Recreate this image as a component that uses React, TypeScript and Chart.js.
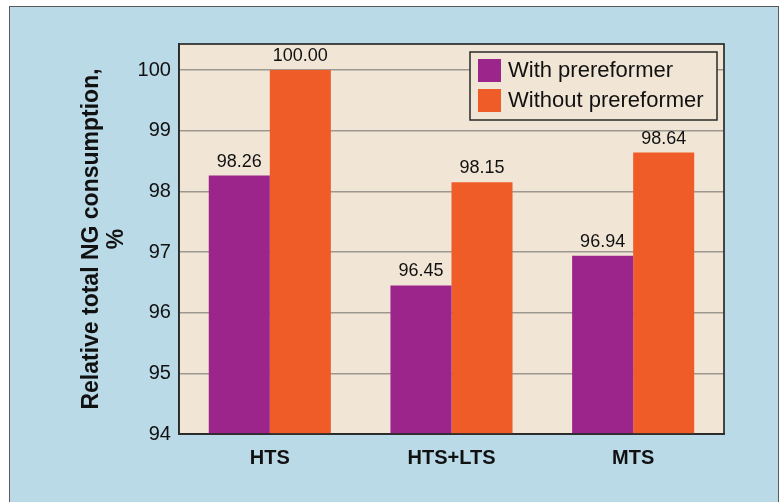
import React, { useEffect, useRef } from "react";
import { Chart, registerables } from "chart.js";

Chart.register(...registerables);

const categories = ["HTS", "HTS+LTS", "MTS"];
const withPrereformer = [98.26, 96.45, 96.94];
const withoutPrereformer = [100.0, 98.15, 98.64];
const seriesLabels = ["With prereformer", "Without prereformer"];
const yTicks = [94, 95, 96, 97, 98, 99, 100];
const yAxisTitle = ["Relative total NG consumption,", "%"];

const FONT = '"Liberation Sans", Arial, Helvetica, sans-serif';
const PURPLE = "#9b258b";
const ORANGE = "#f05c28";
const BEIGE = "#f1e6d5";
const BLUE = "#badae8";
const INK = "#111111";

const backdrop = {
  id: "backdrop",
  beforeDraw(chart: any) {
    const { ctx, width, height, chartArea } = chart;
    ctx.save();
    ctx.fillStyle = "#ffffff";
    ctx.fillRect(0, 0, width, height);
    ctx.fillStyle = BLUE;
    ctx.fillRect(9, 6, width - 10, height);
    ctx.strokeStyle = "#5a5a5a";
    ctx.lineWidth = 1;
    ctx.strokeRect(9.5, 6.5, width - 11, height + 10);
    ctx.fillStyle = BEIGE;
    ctx.fillRect(chartArea.left, chartArea.top, chartArea.right - chartArea.left, chartArea.bottom - chartArea.top);
    ctx.restore();
  },
};

const overlay = {
  id: "overlay",
  afterDatasetsDraw(chart: any) {
    const { ctx, chartArea } = chart;
    ctx.save();

    // value labels above each bar
    ctx.font = `18px ${FONT}`;
    ctx.fillStyle = INK;
    ctx.textAlign = "center";
    ctx.textBaseline = "bottom";
    chart.data.datasets.forEach((ds: any, i: number) => {
      const meta = chart.getDatasetMeta(i);
      meta.data.forEach((bar: any, j: number) => {
        ctx.fillText(Number(ds.data[j]).toFixed(2), bar.x, bar.y - 5);
      });
    });

    // plot frame
    ctx.strokeStyle = "#2a2a2a";
    ctx.lineWidth = 1.7;
    ctx.strokeRect(chartArea.left, chartArea.top, chartArea.right - chartArea.left, chartArea.bottom - chartArea.top);

    // legend box
    const lx = 470;
    const ly = 52;
    const lw = 247;
    const lh = 68;
    ctx.fillStyle = BEIGE;
    ctx.fillRect(lx, ly, lw, lh);
    ctx.strokeStyle = "#2a2a2a";
    ctx.lineWidth = 1.5;
    ctx.strokeRect(lx, ly, lw, lh);
    ctx.font = `22px ${FONT}`;
    ctx.textAlign = "left";
    ctx.textBaseline = "middle";
    chart.data.datasets.forEach((ds: any, i: number) => {
      const sy = ly + 7 + i * 30;
      ctx.fillStyle = ds.backgroundColor;
      ctx.fillRect(lx + 8, sy, 23, 23);
      ctx.fillStyle = INK;
      ctx.fillText(ds.label, lx + 38, sy + 12);
    });

    ctx.restore();
  },
};

export default function App() {
  const canvasRef = useRef<HTMLCanvasElement | null>(null);

  useEffect(() => {
    const canvas = canvasRef.current;
    if (!canvas) return;
    const chart = new Chart(canvas, {
      type: "bar",
      data: {
        labels: categories,
        datasets: [
          {
            label: seriesLabels[0],
            data: withPrereformer,
            backgroundColor: PURPLE,
            borderWidth: 0,
            categoryPercentage: 0.672,
            barPercentage: 1,
          },
          {
            label: seriesLabels[1],
            data: withoutPrereformer,
            backgroundColor: ORANGE,
            borderWidth: 0,
            categoryPercentage: 0.672,
            barPercentage: 1,
          },
        ],
      },
      options: {
        responsive: false,
        animation: false,
        devicePixelRatio: 1,
        layout: { padding: { left: 75, right: 56, top: 44, bottom: 20 } },
        plugins: {
          legend: { display: false },
          tooltip: { enabled: false },
        },
        scales: {
          x: {
            grid: { display: false, drawTicks: false },
            border: { display: true, color: "#2a2a2a", width: 1.7 },
            ticks: {
              color: INK,
              padding: 12,
              font: { family: FONT, size: 20, weight: "bold" },
            },
          },
          y: {
            min: 94,
            max: 100.43,
            afterBuildTicks: (scale: any) => {
              scale.ticks = yTicks.map((v) => ({ value: v }));
            },
            grid: { color: "#9c9890", lineWidth: 1.5, drawTicks: false },
            border: { display: true, color: "#2a2a2a", width: 1.7 },
            ticks: {
              color: INK,
              padding: 8,
              font: { family: FONT, size: 20 },
            },
            title: {
              display: true,
              text: yAxisTitle,
              color: INK,
              padding: { top: 4, bottom: 0 },
              font: { family: FONT, size: 23, weight: "bold", lineHeight: 1.1 },
            },
          },
        },
      },
      plugins: [backdrop, overlay],
    });
    return () => chart.destroy();
  }, []);

  return (
    <canvas
      ref={canvasRef}
      width={780}
      height={502}
      style={{ position: "absolute", left: 0, top: 0, width: 780, height: 502 }}
    />
  );
}
